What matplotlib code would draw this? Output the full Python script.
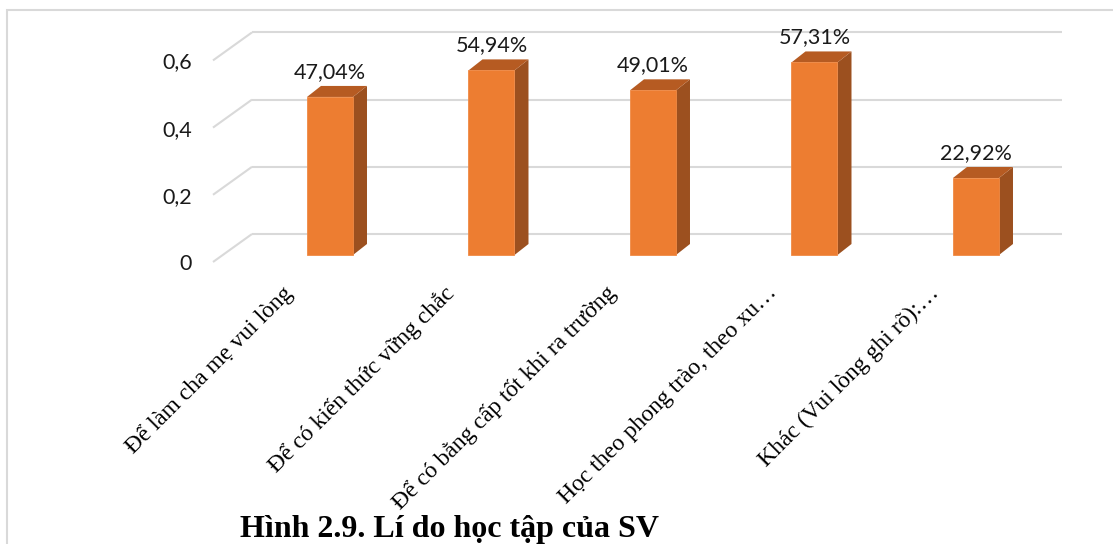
import matplotlib.pyplot as plt
from matplotlib.patches import Polygon, Rectangle

categories = ['Để làm cha mẹ vui lòng',
              'Để có kiến thức vững chắc',
              'Để có bằng cấp tốt khi ra trường',
              'Học theo phong trào, theo xu…',
              'Khác (Vui lòng ghi rõ):…']
values = [0.4704, 0.5494, 0.4901, 0.5731, 0.2292]
value_labels = ['47,04%', '54,94%', '49,01%', '57,31%', '22,92%']
yticks = [0, 0.2, 0.4, 0.6]
ytick_labels = ['0', '0,2', '0,4', '0,6']

W, H = 1113, 544
fig = plt.figure(figsize=(W / 100, H / 100), dpi=100)

# axes = front edge of the 3d floor, pixel geometry
xlim = (-0.6625, 4.353)
ylim = (0, 0.7)
px_x = 161.5   # px per category
px_y = 336.0   # px per unit value
ax_w = (xlim[1] - xlim[0]) * px_x
ax_h = (ylim[1] - ylim[0]) * px_y
ax = fig.add_axes([213 / W, (H - 262) / H, ax_w / W, ax_h / H])
ax.set_xlim(*xlim)
ax.set_ylim(*ylim)
for s in ax.spines.values():
    s.set_visible(False)


def dxu(p):
    return p / px_x


def dyu(p):
    return p / px_y


grid_c = '#d9d9d9'
floor = (dxu(39), dyu(28))
for t in yticks:
    ax.plot([xlim[0], xlim[0] + floor[0]], [t, t + floor[1]], color=grid_c,
            lw=1.5, clip_on=False, zorder=1, solid_capstyle='butt')
    ax.plot([xlim[0] + floor[0], xlim[1] + floor[0]], [t + floor[1], t + floor[1]],
            color=grid_c, lw=1.5, clip_on=False, zorder=1, solid_capstyle='butt')

# 3d bars
front_c, side_c, top_c = '#ED7D31', '#9C501F', '#B65B22'
off = (dxu(10), dyu(7))
bw = dxu(46)
depth = (dxu(14), dyu(11))
for i, v in enumerate(values):
    x0 = i - bw / 2 + off[0]
    x1 = i + bw / 2 + off[0]
    y0 = off[1]
    y1 = v + off[1]
    ax.add_patch(Polygon([(x1, y0), (x1 + depth[0], y0 + depth[1]),
                          (x1 + depth[0], y1 + depth[1]), (x1, y1)],
                         closed=True, fc=side_c, ec='none', zorder=3))
    ax.add_patch(Polygon([(x0, y1), (x1, y1), (x1 + depth[0], y1 + depth[1]),
                          (x0 + depth[0], y1 + depth[1])],
                         closed=True, fc=top_c, ec='none', zorder=3))
    ax.add_patch(Polygon([(x0, y0), (x1, y0), (x1, y1), (x0, y1)],
                         closed=True, fc=front_c, ec='#F08A45', lw=0.6, zorder=4))
    ax.annotate(value_labels[i], xy=(i + off[0], y1), xytext=(0, 18),
                textcoords='offset points', ha='center', va='center',
                fontsize=15.5, family='Lato', color='#1a1a1a', zorder=5)

ax.set_yticks(yticks, ytick_labels)
ax.tick_params(axis='y', length=0, pad=15, labelsize=15.5, labelcolor='#1a1a1a')
for lab in ax.get_yticklabels():
    lab.set_family('Lato')
ax.set_xticks([])

for i, c in enumerate(categories):
    ax.annotate(c, xy=(i, 0), xytext=(-22, -20), textcoords='offset points',
                rotation=45, rotation_mode='anchor', ha='right', va='center',
                fontsize=17, family='Liberation Serif', color='black')

fig.text(240 / W, (H - 537) / H, 'Hình 2.9. Lí do học tập của SV',
         ha='left', va='baseline', fontsize=23, fontweight='bold',
         family='Liberation Serif')

# chart border
fig.add_artist(Rectangle((6.5 / W, -0.1), 1.2, (H - 10.5) / H + 0.1,
                         transform=fig.transFigure, fill=False,
                         ec='#d9d9d9', lw=1.5))

fig.savefig('out.png', dpi=100)
